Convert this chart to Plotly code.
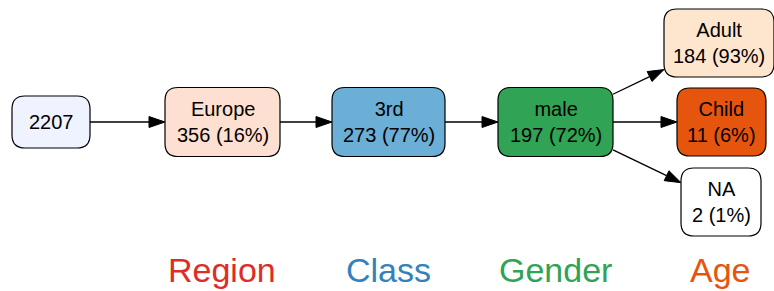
import plotly.graph_objects as go
import math

# ---- data ----
node_names = ["root", "Europe", "3rd", "male", "Adult", "Child", "NA"]
node_labels = ["", "Europe", "3rd", "male", "Adult", "Child", "NA"]
node_counts = [2207, 356, 273, 197, 184, 11, 2]
node_pcts = [None, 16, 77, 72, 93, 6, 1]
node_parents = [None, "root", "Europe", "3rd", "male", "male", "male"]
level_names = ["Region", "Class", "Gender", "Age"]

# ---- styles / layout ----
node_fills = ["#EFF3FF", "#FEE0D2", "#6BAED6", "#31A354", "#FEE6CE", "#E6550D", "#FFFFFF"]
level_colors = ["#DE2D26", "#3182BD", "#31A354", "#E6550D"]
node_cx = [51, 222.5, 388.5, 555.5, 719, 721.5, 721]
node_cy = [122, 122, 122, 122, 43, 122, 202]
node_w = [78, 115, 113, 115, 110, 89, 80]
node_h = [52, 69, 69, 69, 68, 68, 68]
level_label_x = [222, 388.5, 555.5, 720]
level_label_y = 270
W, H = 774, 291
FONT = "Arial, Liberation Sans, sans-serif"


def rrect(cx, cy, w, h, r):
    x0, x1, y0, y1 = cx - w / 2, cx + w / 2, cy - h / 2, cy + h / 2
    return (f"M {x0+r},{y0} L {x1-r},{y0} Q {x1},{y0} {x1},{y0+r} "
            f"L {x1},{y1-r} Q {x1},{y1} {x1-r},{y1} L {x0+r},{y1} "
            f"Q {x0},{y1} {x0},{y1-r} L {x0},{y0+r} Q {x0},{y0} {x0+r},{y0} Z")


def clip(i, dx, dy):
    hw, hh = node_w[i] / 2, node_h[i] / 2
    tx = hw / abs(dx) if dx else 1e9
    ty = hh / abs(dy) if dy else 1e9
    return min(tx, ty)


fig = go.Figure()
shapes = []
annotations = []

# edges
for i, p in enumerate(node_parents):
    if p is None:
        continue
    j = node_names.index(p)
    x0, y0 = node_cx[j], node_cy[j]
    x1, y1 = node_cx[i], node_cy[i]
    dx, dy = x1 - x0, y1 - y0
    L = math.hypot(dx, dy)
    ux, uy = dx / L, dy / L
    ts = clip(j, dx, dy)
    te = 1 - clip(i, -dx, -dy)
    sx, sy = x0 + dx * ts, y0 + dy * ts
    tipx, tipy = x0 + dx * te, y0 + dy * te
    alen, ahw = 16, 5.5
    bx, by = tipx - ux * alen, tipy - uy * alen
    shapes.append(dict(type="line", x0=sx, y0=sy, x1=bx, y1=by,
                       line=dict(color="black", width=1.3), layer="below"))
    px, py = -uy, ux
    shapes.append(dict(type="path",
                       path=f"M {tipx},{tipy} L {bx+px*ahw},{by+py*ahw} L {bx-px*ahw},{by-py*ahw} Z",
                       fillcolor="black", line=dict(color="black", width=1)))

# nodes
for i in range(len(node_names)):
    shapes.append(dict(type="path",
                       path=rrect(node_cx[i], node_cy[i], node_w[i], node_h[i], 13),
                       fillcolor=node_fills[i], line=dict(color="black", width=1.2)))
    if node_pcts[i] is None:
        txt = f"{node_counts[i]}"
    else:
        txt = f"{node_labels[i]}<br>{node_counts[i]} ({node_pcts[i]}%)"
    annotations.append(dict(x=node_cx[i], y=node_cy[i], text=txt, showarrow=False,
                            xref="x", yref="y", align="center",
                            font=dict(family=FONT, size=20, color="black")))

# level labels
for k, name in enumerate(level_names):
    annotations.append(dict(x=level_label_x[k], y=level_label_y, text=name, showarrow=False,
                            xref="x", yref="y",
                            font=dict(family=FONT, size=34, color=level_colors[k])))

fig.update_layout(
    width=W, height=H, margin=dict(l=0, r=0, t=0, b=0),
    paper_bgcolor="white", plot_bgcolor="white",
    shapes=shapes, annotations=annotations, showlegend=False,
    xaxis=dict(range=[0, W], visible=False, fixedrange=True),
    yaxis=dict(range=[H, 0], visible=False, fixedrange=True),
)
fig.write_html("out.html", config={"displayModeBar": False},
               post_script="document.body.style.margin='0';document.body.style.overflow='hidden';")
